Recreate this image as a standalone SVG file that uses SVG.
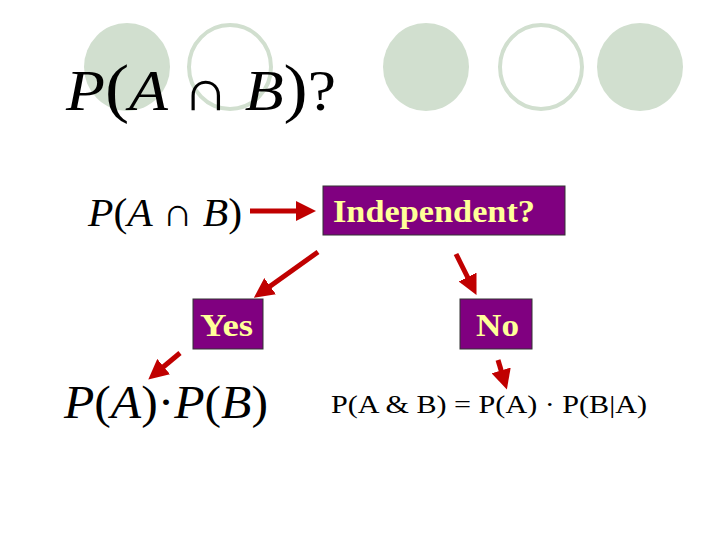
<svg xmlns="http://www.w3.org/2000/svg" width="720" height="540" viewBox="0 0 720 540">
<style>
.cf{fill:#d1dfcf}
.co{fill:none;stroke:#d1dfcf;stroke-width:4}
.box{fill:#800080;stroke:#333;stroke-width:1}
.bt{font-family:"Liberation Serif",serif;font-weight:bold;fill:#ffff99;font-size:31px}
.m{font-family:"Liberation Serif",serif;font-style:italic;fill:#000}
.up{font-family:"Liberation Serif",serif;fill:#000}
.c line{stroke:#c00000;stroke-width:5}
</style>
<defs><marker id="ah" markerWidth="4" markerHeight="4" refX="2" refY="2" orient="auto"><path d="M0,0L4,2L0,4z" fill="#c00000"/></marker></defs>
<g id="deco">
<ellipse class="cf" cx="127" cy="67" rx="43" ry="44"/>
<ellipse class="co" cx="230" cy="67" rx="41" ry="42"/>
<ellipse class="cf" cx="426" cy="67" rx="43" ry="44"/>
<ellipse class="co" cx="541" cy="67" rx="41" ry="42"/>
<ellipse class="cf" cx="640" cy="67" rx="43" ry="44"/>
</g>
<g id="title"><text class="m" x="66" y="110" font-size="58" textLength="270" lengthAdjust="spacingAndGlyphs">P<tspan font-style="normal" font-size="66">(</tspan>A ∩ B<tspan font-style="normal" font-size="66">)</tspan><tspan font-style="normal">?</tspan></text></g>
<g id="pab"><text class="m" x="88" y="226" font-size="40" textLength="154" lengthAdjust="spacingAndGlyphs">P<tspan font-style="normal">(</tspan>A ∩ B<tspan font-style="normal">)</tspan></text></g>
<g id="indep"><rect class="box" x="323" y="186" width="242" height="49"/><text class="bt" x="333" y="222" textLength="202" lengthAdjust="spacingAndGlyphs">Independent?</text></g>
<g id="yes"><rect class="box" x="193" y="299" width="70" height="50"/><text class="bt" x="200" y="336" textLength="53" lengthAdjust="spacingAndGlyphs">Yes</text></g>
<g id="no"><rect class="box" x="460" y="299" width="72" height="50"/><text class="bt" x="476" y="336" textLength="43" lengthAdjust="spacingAndGlyphs">No</text></g>
<g id="pp"><text class="m" x="64" y="418" font-size="46" textLength="204" lengthAdjust="spacingAndGlyphs">P<tspan font-style="normal">(</tspan>A<tspan font-style="normal">)·</tspan>P<tspan font-style="normal">(</tspan>B<tspan font-style="normal">)</tspan></text></g>
<g id="cond"><text class="up" x="331" y="413" font-size="25" textLength="316" lengthAdjust="spacingAndGlyphs">P(A &amp; B) = P(A) · P(B|A)</text></g>
<g class="c" id="connectors">
<line x1="250" y1="211" x2="306" y2="211" marker-end="url(#ah)"/>
<line x1="318" y1="252" x2="262" y2="292" marker-end="url(#ah)"/>
<line x1="456" y1="254" x2="472" y2="286" marker-end="url(#ah)"/>
<line x1="180" y1="353" x2="156" y2="373" marker-end="url(#ah)"/>
<line x1="498" y1="360" x2="504" y2="380" marker-end="url(#ah)"/>
</g>
</svg>
